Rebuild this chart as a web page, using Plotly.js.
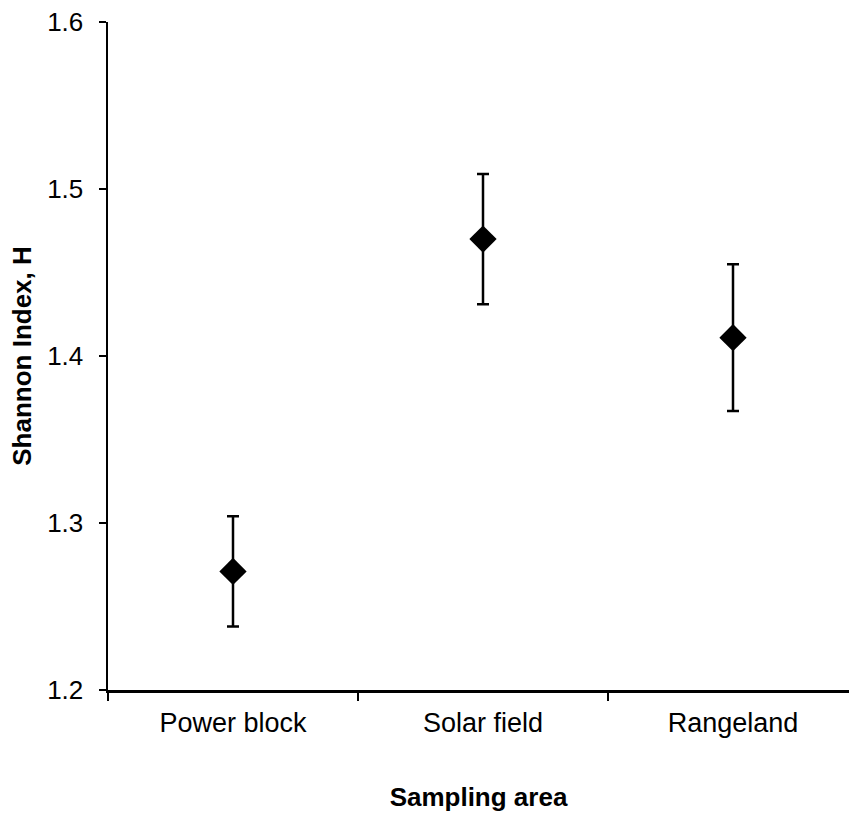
<!DOCTYPE html>
<html>
<head>
<meta charset="utf-8">
<script src="https://cdn.plot.ly/plotly-3.0.1.min.js"></script>
<style>html,body{margin:0;padding:0;background:#fff}#chart{width:849px;height:814px}</style>
</head>
<body>
<div id="chart"></div>
<script>
const categories = ["Power block", "Solar field", "Rangeland"];
const shannonMean = [1.271, 1.470, 1.411];
const shannonErr = [0.033, 0.039, 0.044];
const yTickVals = [1.2, 1.3, 1.4, 1.5, 1.6];
const yTickText = ["1.2", "1.3", "1.4", "1.5", "1.6"];

const trace = {
  type: "scatter",
  mode: "markers",
  x: categories,
  y: shannonMean,
  marker: {symbol: "diamond", size: 21, color: "#000000"},
  error_y: {type: "data", array: shannonErr, visible: true, color: "#000000", thickness: 2.5, width: 6},
  cliponaxis: false,
  showlegend: false
};

const layout = {
  width: 849, height: 814,
  margin: {l: 108, r: 0, t: 22, b: 124},
  paper_bgcolor: "#ffffff", plot_bgcolor: "#ffffff",
  font: {family: "Liberation Sans, Arial, sans-serif", size: 26, color: "#000000"},
  xaxis: {
    type: "category",
    range: [-0.5, 2.464],
    tickson: "boundaries",
    ticks: "outside", ticklen: 8, tickwidth: 2, tickcolor: "#000",
    showline: true, linecolor: "#000", linewidth: 2.5,
    showgrid: false, zeroline: false,
    tickfont: {size: 27},
    ticklabelstandoff: 7,
    title: {text: "<b>Sampling area</b>", font: {size: 26}, standoff: 51}
  },
  yaxis: {
    range: [1.2, 1.6],
    tickvals: yTickVals, ticktext: yTickText,
    ticks: "outside", ticklen: 7, tickwidth: 2, tickcolor: "#000",
    showline: true, linecolor: "#000", linewidth: 2.5,
    showgrid: false, zeroline: false,
    tickfont: {size: 26},
    ticklabelstandoff: 10,
    title: {text: "<b>Shannon Index, H</b>", font: {size: 26}, standoff: 8}
  }
};

Plotly.newPlot("chart", [trace], layout, {displayModeBar: false, staticPlot: true});
</script>
</body>
</html>
